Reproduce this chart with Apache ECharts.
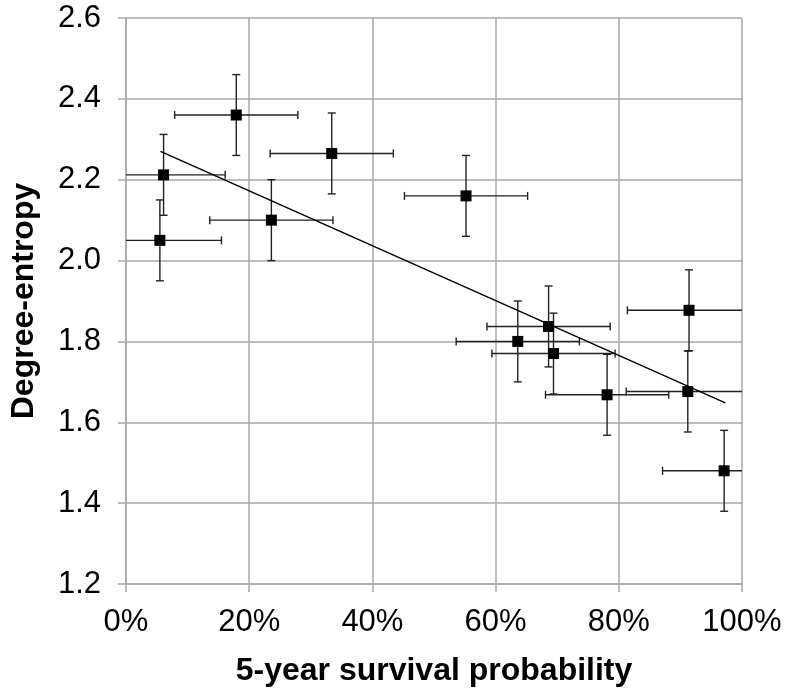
<!DOCTYPE html>
<html>
<head>
<meta charset="utf-8">
<script src="https://cdn.jsdelivr.net/npm/echarts@6/dist/echarts.min.js"></script>
<style>
html,body{margin:0;padding:0;background:#fff;}
#chart{width:786px;height:692px;}
</style>
</head>
<body>
<div id="chart"></div>
<script>
// Data
const survival = [17.9, 33.4, 6.1, 23.6, 5.5, 55.2, 68.6, 63.6, 69.4, 78.1, 91.4, 91.2, 97.1];
const entropy  = [2.36, 2.265, 2.212, 2.10, 2.05, 2.16, 1.837, 1.80, 1.77, 1.668, 1.877, 1.676, 1.48];
const survivalErr = [10, 10, 10, 10, 10, 10, 10, 10, 10, 10, 10, 10, 10];
const entropyErr  = [0.1, 0.1, 0.1, 0.1, 0.1, 0.1, 0.1, 0.1, 0.1, 0.1, 0.1, 0.1, 0.1];
const trendX = [5.6, 97.3];
const trendY = [2.27, 1.648];
const xTicks = [0, 20, 40, 60, 80, 100];
const yTicks = [1.2, 1.4, 1.6, 1.8, 2.0, 2.2, 2.4, 2.6];

const FONT = "'Liberation Sans', Arial, Helvetica, sans-serif";
const points = survival.map((x, i) => [x, entropy[i]]);
const errData = survival.map((x, i) => [x, entropy[i], survivalErr[i], entropyErr[i]]);
const trendData = trendX.map((x, i) => [x, trendY[i]]);

function renderErr(params, api) {
  const x = api.value(0), y = api.value(1), xe = api.value(2), ye = api.value(3);
  const cs = params.coordSys;
  const c = api.coord([x, y]);
  let xl = api.coord([x - xe, y])[0];
  let xr = api.coord([x + xe, y])[0];
  let yt = api.coord([x, y + ye])[1];
  let yb = api.coord([x, y - ye])[1];
  const capL = xl >= cs.x - 0.5, capR = xr <= cs.x + cs.width + 0.5;
  xl = Math.max(xl, cs.x); xr = Math.min(xr, cs.x + cs.width);
  const capT = yt >= cs.y - 0.5, capB = yb <= cs.y + cs.height + 0.5;
  yt = Math.max(yt, cs.y); yb = Math.min(yb, cs.y + cs.height);
  const h = 4;
  const st = { stroke: '#222', lineWidth: 1.4 };
  const kids = [
    { type: 'line', shape: { x1: xl, y1: c[1], x2: xr, y2: c[1] }, style: st },
    { type: 'line', shape: { x1: c[0], y1: yt, x2: c[0], y2: yb }, style: st }
  ];
  if (capL) kids.push({ type: 'line', shape: { x1: xl, y1: c[1] - h, x2: xl, y2: c[1] + h }, style: st });
  if (capR) kids.push({ type: 'line', shape: { x1: xr, y1: c[1] - h, x2: xr, y2: c[1] + h }, style: st });
  if (capT) kids.push({ type: 'line', shape: { x1: c[0] - h, y1: yt, x2: c[0] + h, y2: yt }, style: st });
  if (capB) kids.push({ type: 'line', shape: { x1: c[0] - h, y1: yb, x2: c[0] + h, y2: yb }, style: st });
  return { type: 'group', children: kids };
}

const chart = echarts.init(document.getElementById('chart'), null, { renderer: 'canvas' });
chart.setOption({
  animation: false,
  backgroundColor: '#fff',
  grid: { left: 122, right: 44, top: 18, bottom: 102, containLabel: false },
  xAxis: {
    type: 'value', min: xTicks[0], max: xTicks[xTicks.length - 1], interval: 20,
    name: '5-year survival probability', nameLocation: 'middle', nameGap: 71,
    nameTextStyle: { fontFamily: FONT, fontSize: 32, fontWeight: 'bold', color: '#000' },
    axisLine: { show: true, lineStyle: { color: '#a8a8a8', width: 1.5 } },
    axisTick: { show: true, length: 8, lineStyle: { color: '#a8a8a8', width: 1.5 } },
    axisLabel: { formatter: '{value}%', fontFamily: FONT, fontSize: 31, color: '#000', margin: 23 },
    splitLine: { show: true, lineStyle: { color: '#a8a8a8', width: 1.5 } }
  },
  yAxis: {
    type: 'value', min: yTicks[0], max: yTicks[yTicks.length - 1], interval: 0.2,
    name: 'Degree-entropy', nameLocation: 'middle', nameGap: 86, nameRotate: 90,
    nameTextStyle: { fontFamily: FONT, fontSize: 32, fontWeight: 'bold', color: '#000' },
    axisLine: { show: true, lineStyle: { color: '#a8a8a8', width: 1.5 } },
    axisTick: { show: true, length: 8, lineStyle: { color: '#a8a8a8', width: 1.5 } },
    axisLabel: { formatter: v => v.toFixed(1), fontFamily: FONT, fontSize: 31, color: '#000', margin: 25 },
    splitLine: { show: true, lineStyle: { color: '#a8a8a8', width: 1.5 } }
  },
  series: [
    { type: 'custom', renderItem: renderErr, data: errData, encode: { x: 0, y: 1 }, z: 2, silent: true },
    { type: 'line', data: trendData, showSymbol: false, symbol: 'none', lineStyle: { color: '#000', width: 1.5 }, z: 3, silent: true },
    { type: 'scatter', data: points, symbol: 'rect', symbolSize: 11, itemStyle: { color: '#000', opacity: 1 }, z: 4, silent: true }
  ]
});
</script>
</body>
</html>
